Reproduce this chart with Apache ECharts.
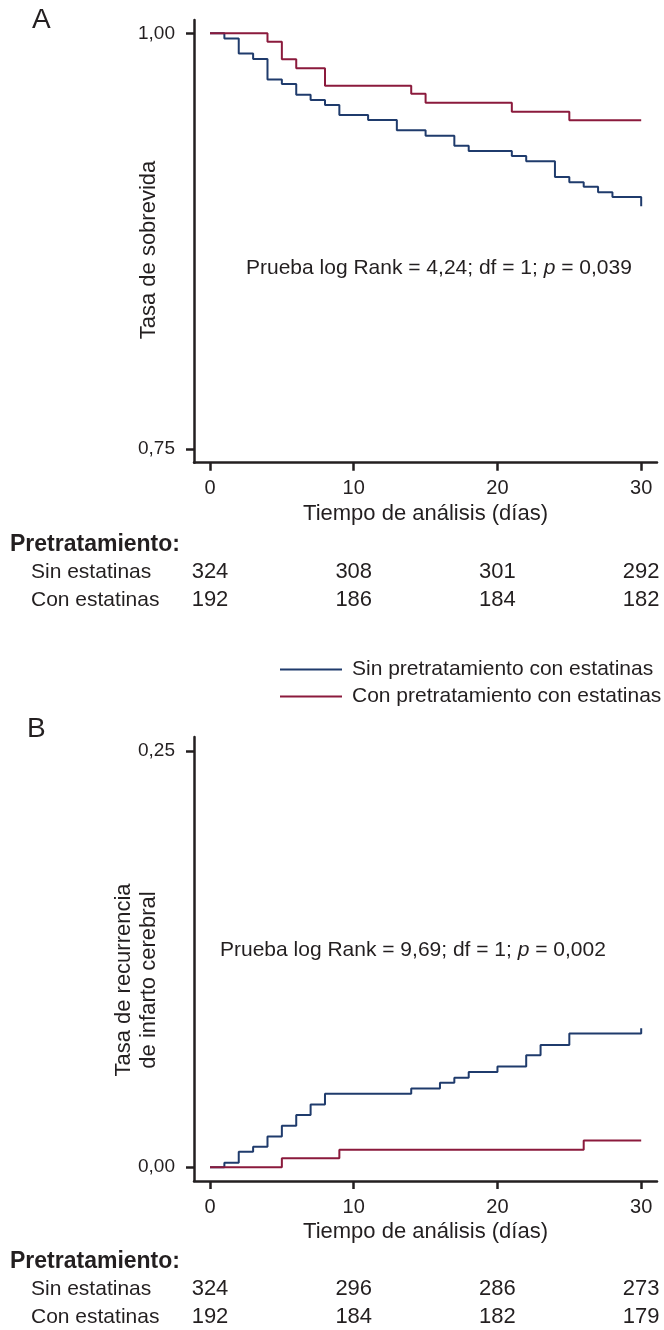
<!DOCTYPE html>
<html>
<head>
<meta charset="utf-8">
<script src="https://cdn.jsdelivr.net/npm/echarts@6/dist/echarts.min.js"></script>
<style>
  html, body { margin: 0; padding: 0; background: #fff; }
  #chart { width: 664px; height: 1330px; }
</style>
</head>
<body>
<div id="chart"></div>
<script>
// Kaplan-Meier curves, two panels (A: survival, B: stroke recurrence)
const FONT = '"Liberation Sans", Arial, Helvetica, sans-serif';
const INK = '#231f20';
const BLUE = '#1f3b6c';
const RED = '#8b1a3c';

const SIN = 'Sin pretratamiento con estatinas';
const CON = 'Con pretratamiento con estatinas';

const xTicks = [0, 10, 20, 30];
const yTicksA = [0.75, 1.00];
const yTicksB = [0.00, 0.25];

// panel A - survival
const daysA_sin = [0, 1, 2, 3, 4, 5, 6, 7, 8, 9, 11, 13, 15, 17, 18, 21, 22, 24, 25, 26, 27, 28, 30];
const survA_sin = [1.000, 0.9969, 0.9878, 0.9846, 0.9722, 0.9696, 0.9631, 0.9599, 0.9569, 0.9509, 0.9479,
                   0.9417, 0.9384, 0.9324, 0.9292, 0.9262, 0.9231, 0.9137, 0.9105, 0.9077, 0.9045, 0.9016, 0.8960];
const daysA_con = [0, 4, 5, 6, 8, 14, 15, 21, 25, 30];
const survA_con = [1.000, 0.9949, 0.9844, 0.9790, 0.9685, 0.9637, 0.9583, 0.9529, 0.9477, 0.9477];

// panel B - recurrence
const daysB_sin = [0, 1, 2, 3, 4, 5, 6, 7, 8, 14, 16, 17, 18, 20, 22, 23, 25, 30];
const recB_sin = [0.000, 0.0027, 0.0092, 0.0123, 0.0184, 0.0248, 0.0314, 0.0377, 0.0441, 0.0473,
                  0.0507, 0.0537, 0.0571, 0.0605, 0.0672, 0.0734, 0.0802, 0.0834];
const daysB_con = [0, 5, 9, 26, 30];
const recB_con = [0.000, 0.0053, 0.0105, 0.0160, 0.0160];

// numbers at risk at 0/10/20/30 days
const riskA_sin = [324, 308, 301, 292];
const riskA_con = [192, 186, 184, 182];
const riskB_sin = [324, 296, 286, 273];
const riskB_con = [192, 184, 182, 179];

const pairs = (xs, ys) => xs.map((x, i) => [x, ys[i]]);
const comma = (v) => v.toFixed(2).replace('.', ',');

function mainX(grid) {
  return {
    type: 'value', gridIndex: grid, min: -1.113, max: 31.1, position: 'bottom',
    name: 'Tiempo de análisis (días)', nameLocation: 'middle', nameGap: 51,
    nameTextStyle: { color: INK, fontFamily: FONT, fontSize: 22, verticalAlign: 'middle' },
    axisLine: { onZero: false, lineStyle: { color: INK, width: 2.5 } },
    axisTick: { customValues: xTicks, length: 8, lineStyle: { color: INK, width: 2.5 } },
    axisLabel: { customValues: xTicks, color: INK, fontFamily: FONT, fontSize: 20,
                 margin: 26, verticalAlign: 'middle' },
    splitLine: { show: false },
  };
}

// hidden axis that only prints the at-risk numbers under the ticks
function riskX(grid, counts, offset) {
  return {
    type: 'value', gridIndex: grid, min: -1.113, max: 31.1, position: 'bottom', offset,
    axisLine: { show: false }, axisTick: { show: false }, splitLine: { show: false },
    axisLabel: { customValues: xTicks, color: INK, fontFamily: FONT, fontSize: 22,
                 margin: 0, verticalAlign: 'middle',
                 formatter: (v) => String(counts[xTicks.indexOf(Math.round(v))]) },
  };
}

function yAx(grid, min, max, ticks) {
  return {
    type: 'value', gridIndex: grid, min, max,
    axisLine: { onZero: false, lineStyle: { color: INK, width: 2.5 } },
    axisTick: { customValues: ticks, length: 8, lineStyle: { color: INK, width: 2.5 } },
    axisLabel: { customValues: ticks, color: INK, fontFamily: FONT, fontSize: 19, margin: 19,
                 formatter: comma },
    splitLine: { show: false },
  };
}

function km(name, data, color, xi, yi) {
  return {
    name, type: 'line', step: 'end', data, symbol: 'none', xAxisIndex: xi, yAxisIndex: yi,
    lineStyle: { color, width: 2 }, itemStyle: { color }, animation: false,
  };
}

function txt(text, x, y, font, extra = {}) {
  return { type: 'text', x, y, rotation: extra.rotation || 0,
           style: { text, fill: INK, font, textVerticalAlign: 'middle', ...extra.style } };
}

function pTxt(a, b, x, y) {
  return { type: 'text', x, y, style: {
    text: `{a|${a}}{i|p}{a|${b}}`, textVerticalAlign: 'middle',
    rich: { a: { fontFamily: FONT, fontSize: 21, fill: INK, color: INK },
            i: { fontFamily: FONT, fontSize: 21, fontStyle: 'italic', fill: INK, color: INK } } } };
}

const chart = echarts.init(document.getElementById('chart'), null, { renderer: 'canvas' });
chart.setOption({
  backgroundColor: '#ffffff',
  animation: false,
  textStyle: { fontFamily: FONT, color: INK },
  grid: [
    { left: 194, top: 20, width: 463, height: 442.7 },
    { left: 194, top: 737, width: 463, height: 444 },
  ],
  xAxis: [
    mainX(0), riskX(0, riskA_sin, 109), riskX(0, riskA_con, 137),
    mainX(1), riskX(1, riskB_sin, 108), riskX(1, riskB_con, 136),
  ],
  yAxis: [
    yAx(0, 0.7419, 1.008, yTicksA),
    yAx(1, -0.0083, 0.2583, yTicksB),
  ],
  legend: {
    data: [SIN, CON], orient: 'vertical', left: 275, top: 654, itemGap: 6,
    icon: 'rect', itemWidth: 62, itemHeight: 2, selectedMode: false,
    textStyle: { color: INK, fontFamily: FONT, fontSize: 21, padding: [0, 0, 0, 5] },
  },
  series: [
    km(SIN, pairs(daysA_sin, survA_sin), BLUE, 0, 0),
    km(CON, pairs(daysA_con, survA_con), RED, 0, 0),
    km(SIN, pairs(daysB_sin, recB_sin), BLUE, 3, 1),
    km(CON, pairs(daysB_con, recB_con), RED, 3, 1),
  ],
  graphic: [
    txt('A', 32, 20, `28px ${FONT}`),
    txt('B', 27, 729, `28px ${FONT}`),
    txt('Tasa de sobrevida', 149, 250, `22px ${FONT}`,
        { rotation: Math.PI / 2, style: { textAlign: 'center' } }),
    txt('Tasa de recurrencia\nde infarto cerebral', 136, 980, `22px ${FONT}`,
        { rotation: Math.PI / 2, style: { textAlign: 'center', lineHeight: 25 } }),
    pTxt('Prueba log Rank = 4,24; df = 1; ', ' = 0,039', 246, 268),
    pTxt('Prueba log Rank = 9,69; df = 1; ', ' = 0,002', 220, 950),
    txt('Pretratamiento:', 10, 545, `bold 23px ${FONT}`),
    txt('Sin estatinas', 31, 572, `21px ${FONT}`),
    txt('Con estatinas', 31, 600, `21px ${FONT}`),
    txt('Pretratamiento:', 10, 1262, `bold 23px ${FONT}`),
    txt('Sin estatinas', 31, 1289, `21px ${FONT}`),
    txt('Con estatinas', 31, 1317, `21px ${FONT}`),
  ],
});
</script>
</body>
</html>
